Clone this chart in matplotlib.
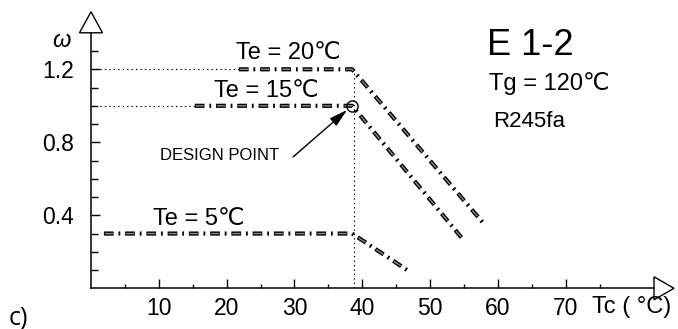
import matplotlib
matplotlib.use("Agg")
import matplotlib.pyplot as plt
from matplotlib.patches import Polygon

plt.rcParams['font.family'] = ['Liberation Sans', 'DejaVu Sans']
plt.rcParams['lines.scale_dashes'] = False

# Evaporation temperatures and the three working lines (omega vs Tc)
te_labels = ['Te = 20\u2103', 'Te = 15\u2103', 'Te = 5\u2103']
tc_start = [21.8, 15.3, 1.9]
tc_knee = [38.5, 38.5, 38.5]
tc_end = [58.0, 54.8, 46.6]
omega_flat = [1.2, 1.0, 0.3]
omega_end = [0.35, 0.27, 0.10]

design_tc = 38.5
design_omega = 1.0

x_major = [10, 20, 30, 40, 50, 60, 70]
x_minor = [5, 15, 25, 35, 45, 55, 65, 75]
y_major = [0.4, 0.8, 1.2]
y_minor = [0.1, 0.2, 0.3, 0.5, 0.6, 0.7, 0.9, 1.0, 1.1, 1.3]

fig = plt.figure(figsize=(6.78, 3.29), dpi=100)
ax = fig.add_axes([91 / 678, 40.7 / 329, 563 / 678, 255.5 / 329])
ax.set_xlim(0, 83)
ax.set_ylim(0, 1.4)

for s in ['top', 'right']:
    ax.spines[s].set_visible(False)
for s in ['left', 'bottom']:
    ax.spines[s].set_linewidth(1.1)

ax.set_xticks(x_major)
ax.set_xticks(x_minor, minor=True)
ax.set_yticks(y_major)
ax.set_yticks(y_minor, minor=True)
ax.set_yticklabels([f'{v:.1f}' for v in y_major])
ax.tick_params(which='major', direction='in', length=6.5, width=1, labelsize=16.5)
ax.tick_params(axis='x', which='major', pad=6)
ax.tick_params(axis='y', which='major', pad=12)
ax.tick_params(axis='x', which='minor', direction='in', length=3, width=1)
ax.tick_params(axis='y', which='minor', direction='in', length=5, width=1)

# open arrow heads at the ends of the axes
px_x = 83 / 563.0
px_y = 1.4 / 255.5
ax.add_patch(Polygon([(-11.5 * px_x, 1.4), (11.5 * px_x, 1.4), (0, 1.4 + 21 * px_y)],
                     closed=True, fc='white', ec='black', lw=1, clip_on=False))
ax.add_patch(Polygon([(83, -11.5 * px_y), (83, 11.5 * px_y), (83 + 20 * px_x, 0)],
                     closed=True, fc='white', ec='black', lw=1, clip_on=False))

# dotted guides to the design condition
dot = (0, (1.0, 2.2))
ax.plot([0, tc_start[0]], [omega_flat[0], omega_flat[0]], color='black', lw=0.8, ls=dot)
ax.plot([0, tc_start[1]], [omega_flat[1], omega_flat[1]], color='black', lw=0.8, ls=dot)
ax.plot([design_tc + 0.2, design_tc + 0.2], [0, omega_flat[0]], color='black', lw=0.8, ls=dot)

# dash-dot curves drawn as outlined dashes
outer = (0, (7.0, 3.5, 1.3, 3.5))
inner = (14.6, (5.8, 9.5))
for i in range(3):
    xs = [tc_start[i], tc_knee[i], tc_end[i]]
    ys = [omega_flat[i], omega_flat[i], omega_end[i]]
    ax.plot(xs, ys, color='black', lw=3.0, ls=outer, dash_capstyle='butt')
    ax.plot(xs, ys, color='#8a8a8a', lw=1.0, ls=inner, dash_capstyle='butt')

ax.plot([design_tc], [design_omega], marker='o', ms=8, mfc='none', mec='black', mew=1)

ax.annotate('', xy=(37.75, 0.977), xytext=(29.8, 0.72),
            arrowprops=dict(arrowstyle='-|>,head_length=1.1,head_width=0.3',
                            color='black', lw=1, shrinkA=0, shrinkB=0))

ax.text(29.05, 1.255, te_labels[0], fontsize=17, ha='center', va='baseline')
ax.text(25.8, 1.05, te_labels[1], fontsize=17, ha='center', va='baseline')
ax.text(15.9, 0.347, te_labels[2], fontsize=17, ha='center', va='baseline')

ax.text(58.4, 1.278, 'E 1-2', fontsize=26, ha='left', va='baseline')
ax.text(58.7, 1.087, 'Tg = 120\u2103', fontsize=17, ha='left', va='baseline')
ax.text(59.3, 0.886, 'R245fa', fontsize=16, ha='left', va='baseline')
ax.text(10.2, 0.703, 'DESIGN POINT', fontsize=12, ha='left', va='baseline')

ax.text(-4.3, 1.324, '\u03c9', fontsize=17, style='italic', ha='center', va='baseline')
ax.text(73.9, -0.135, 'Tc ( \u00b0C)', fontsize=17, ha='left', va='baseline', clip_on=False)
fig.text(9 / 678, 0.015, 'c)', fontsize=18, family=['Open Sans', 'DejaVu Sans'], ha='left', va='baseline')

fig.savefig('out.png', dpi=100)
